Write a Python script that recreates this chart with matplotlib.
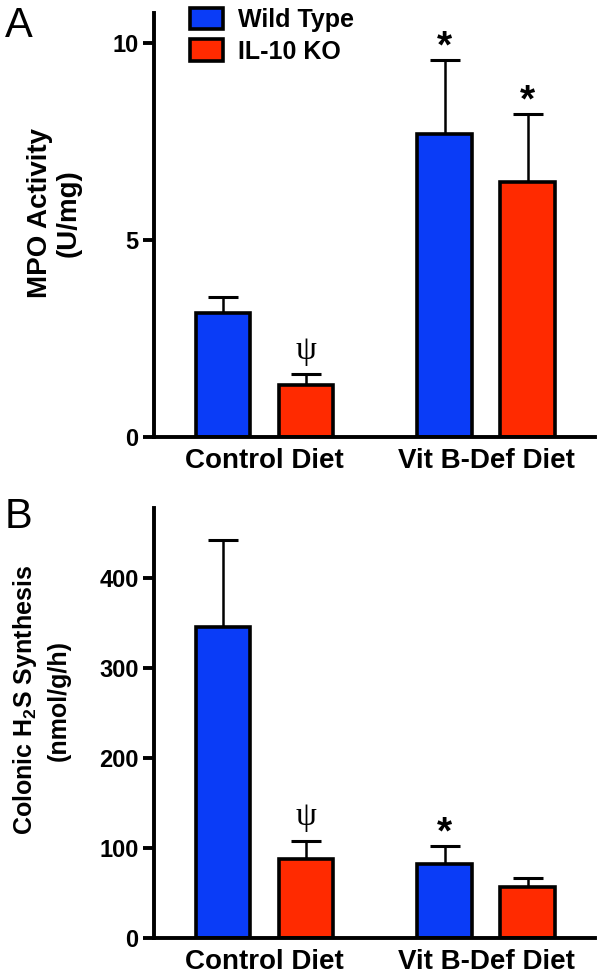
import numpy as np
import matplotlib
matplotlib.use('Agg')
import matplotlib.pyplot as plt
from matplotlib.patches import Patch

plt.rcParams['font.family'] = ['Liberation Sans', 'DejaVu Sans']
plt.rcParams['font.weight'] = 'bold'
plt.rcParams['mathtext.fontset'] = 'custom'
plt.rcParams['mathtext.rm'] = 'Liberation Sans:bold'
plt.rcParams['mathtext.bf'] = 'Liberation Sans:bold'
plt.rcParams['mathtext.default'] = 'bf'

# data
groups = ['Control Diet', 'Vit B-Def Diet']
series = ['Wild Type', 'IL-10 KO']
colors = ['#0a3cf7', '#ff2a00']

# panel A - MPO activity
mpo_wt = [3.14, 7.71]
mpo_wt_err = [0.41, 1.88]
mpo_ko = [1.32, 6.48]
mpo_ko_err = [0.28, 1.72]
mpo_marks_wt = ['', '*']
mpo_marks_ko = ['\u03c8', '*']

# panel B - colonic H2S synthesis
h2s_wt = [346, 82]
h2s_wt_err = [96, 20]
h2s_ko = [88, 57]
h2s_ko_err = [20, 10]
h2s_marks_wt = ['', '*']
h2s_marks_ko = ['\u03c8', '']

fig = plt.figure(figsize=(6.01, 9.74), dpi=100)
axA = fig.add_axes([0.2562, 0.5513, 0.7338, 0.4357])
axB = fig.add_axes([0.2562, 0.0370, 0.7338, 0.4414])

pos_wt = np.array([0.0, 2.67])
pos_ko = pos_wt + 1.0
width = 0.66


def panel(ax, wt, wt_err, ko, ko_err, marks_wt, marks_ko, ymax, ticks, ylabel, labfs, labxy, lsp):
    for pos, vals, errs, c, marks in [(pos_wt, wt, wt_err, colors[0], marks_wt),
                                      (pos_ko, ko, ko_err, colors[1], marks_ko)]:
        ax.errorbar(pos, vals, yerr=[np.zeros(len(errs)), errs], fmt='none',
                    ecolor='k', elinewidth=1.8, capsize=10.5, capthick=2.2, zorder=1)
        ax.bar(pos, vals, width, color=c, edgecolor='k', linewidth=2.6, zorder=2)
        for x, v, e, m in zip(pos, vals, errs, marks):
            if m == '*':
                ax.annotate(m, xy=(x, v + e), xytext=(0, -4), textcoords='offset points',
                            ha='center', va='bottom', fontsize=28, fontweight='bold')
            elif m:
                ax.annotate(m, xy=(x, v + e), xytext=(0, 6), textcoords='offset points',
                            ha='center', va='bottom', fontsize=24, fontweight='normal',
                            family=['Liberation Serif', 'DejaVu Serif'])
    ax.set_xlim(-0.83, 4.48)
    ax.set_ylim(0, ymax)
    ax.set_yticks(ticks)
    ax.set_xticks((pos_wt + pos_ko) / 2)
    ax.set_xticklabels(groups, fontsize=20, fontweight='bold')
    ax.tick_params(axis='x', length=0, pad=8)
    ax.tick_params(axis='y', length=8, width=2.8, labelsize=17, pad=3)
    for s in ['top', 'right']:
        ax.spines[s].set_visible(False)
    for s in ['left', 'bottom']:
        ax.spines[s].set_linewidth(2.8)
    ax.set_ylabel(ylabel, fontsize=labfs, fontweight='bold', linespacing=lsp)
    ax.yaxis.set_label_coords(*labxy)


panel(axA, mpo_wt, mpo_wt_err, mpo_ko, mpo_ko_err, mpo_marks_wt, mpo_marks_ko,
      10.78, [0, 5, 10], 'MPO Activity\n(U/mg)', 20, (-0.163, 0.528), 1.15)
panel(axB, h2s_wt, h2s_wt_err, h2s_ko, h2s_ko_err, h2s_marks_wt, h2s_marks_ko,
      478, [0, 100, 200, 300, 400], 'Colonic H$_2$S Synthesis\n(nmol/g/h)', 18, (-0.188, 0.553), 1.4)

handles = [Patch(facecolor=c, edgecolor='k', linewidth=2.6, label=s) for c, s in zip(colors, series)]
axA.legend(handles=handles, loc='upper left', bbox_to_anchor=(0.082, 1.012), frameon=False,
           handlelength=1.3, handleheight=0.93, handletextpad=0.6,
           labelspacing=0.3, borderpad=0.0, borderaxespad=0.0,
           prop={'weight': 'bold', 'size': 18})

fig.text(0.008, 0.962, 'A', fontsize=30, fontweight='normal')
fig.text(0.008, 0.458, 'B', fontsize=30, fontweight='normal')

fig.savefig('out.png', dpi=100)
